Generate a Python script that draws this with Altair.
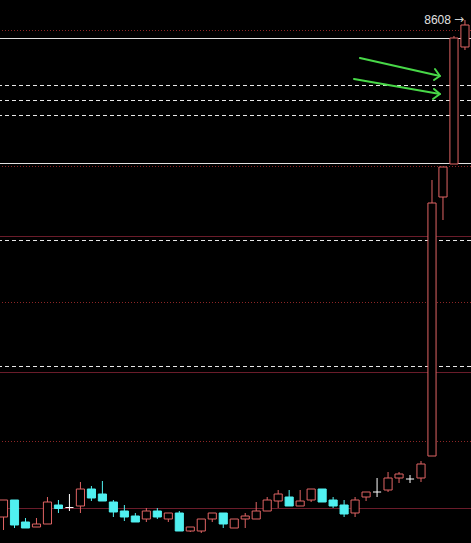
import altair as alt
import numpy as np
import pandas as pd

# Daily candles (oldest first)
opens = [3638, 3808, 3588, 3538, 3568, 3758, 3733, 3748, 3918, 3868, 3788,
         3698, 3648, 3618, 3698, 3618, 3678, 3498, 3498, 3618, 3678, 3528,
         3618, 3618, 3698, 3798, 3838, 3748, 3808, 3918, 3808, 3758, 3678,
         3838, 3888, 3908, 4028, 4018, 4028, 4248, 6838, 7168, 8338]
closes = [3808, 3558, 3528, 3568, 3788, 3723, 3733, 3918, 3828, 3798, 3688,
          3638, 3588, 3698, 3638, 3678, 3498, 3538, 3618, 3678, 3568, 3618,
          3648, 3698, 3808, 3868, 3748, 3798, 3918, 3788, 3748, 3668, 3808,
          3888, 3888, 4028, 4068, 4018, 4168, 6778, 7138, 8428, 8558]
highs = [3808, 3808, 3628, 3628, 3838, 3808, 3868, 3988, 3948, 3998, 3808,
         3758, 3678, 3728, 3728, 3678, 3698, 3538, 3618, 3678, 3678, 3618,
         3678, 3788, 3838, 3908, 3908, 3908, 3918, 3918, 3838, 3808, 3838,
         3888, 4028, 4088, 4088, 4058, 4198, 7008, 7138, 8448, 8608]
lows = [3508, 3528, 3528, 3538, 3568, 3678, 3698, 3678, 3798, 3798, 3638,
        3598, 3588, 3588, 3618, 3588, 3498, 3488, 3478, 3588, 3528, 3528,
        3528, 3618, 3698, 3728, 3748, 3748, 3788, 3788, 3728, 3638, 3638,
        3798, 3838, 3888, 3978, 3978, 3988, 4248, 6608, 7168, 8308]

# Horizontal reference levels
white_solid = [8423, 7173]
white_dashed = [7953, 7803, 7653, 6403, 5143]
red_dotted = [8503, 7143, 5783, 4393]
red_solid = [6443, 5083, 3723]

# Hand-drawn green arrows: shafts and heads as (bar index, price) points
arrow_id = ["a1", "a1", "h1", "h1", "h1", "a2", "a2", "h2", "h2", "h2"]
arrow_ord = [0, 1, 0, 1, 2, 0, 1, 0, 1, 2]
arrow_x = [32.44, 39.72, 39.27, 39.72, 39.18, 31.90, 39.72, 39.18, 39.72, 39.09]
arrow_y = [8228, 8048, 8118, 8048, 8008, 8018, 7868, 7918, 7868, 7818]

RED = "#e06464"
CYAN = "#50f0f0"
HALF = 0.37

df = pd.DataFrame({"i": range(len(opens)), "o": opens, "c": closes,
                   "h": highs, "l": lows})
df["kind"] = np.where(df.c > df.o, "up", np.where(df.c < df.o, "down", "doji"))
df["top"] = df[["o", "c"]].max(axis=1)
df["bot"] = df[["o", "c"]].min(axis=1)
df["left"] = df.i - HALF
df["right"] = df.i + HALF

xs = alt.Scale(domain=[-0.32, 42.55], nice=False, zero=False)
ys = alt.Scale(domain=[3378, 8808], nice=False, zero=False)
X = lambda f: alt.X(f, type="quantitative", scale=xs, axis=None)
Y = lambda f: alt.Y(f, type="quantitative", scale=ys, axis=None)


def hlines(values, color, dash=None, opacity=1.0):
    kw = dict(color=color, strokeWidth=1, opacity=opacity)
    if dash:
        kw["strokeDash"] = dash
    return alt.Chart(pd.DataFrame({"p": values})).mark_rule(**kw).encode(y=Y("p"))


lines = [
    hlines(red_solid, "#6a1c2a"),
    hlines(red_dotted, "#b03030", [1, 2], 0.8),
    hlines(white_dashed, "#e8e8e8", [4, 3]),
    hlines(white_solid, "#e0e0e0"),
]

base = alt.Chart(df)
wicks = base.mark_rule(strokeWidth=1).encode(
    x=X("i"), y=Y("l"), y2="h",
    color=alt.Color("kind:N", legend=None,
                    scale=alt.Scale(domain=["up", "down", "doji"],
                                    range=[RED, CYAN, "#ffffff"])),
)
up_bodies = base.transform_filter("datum.kind == 'up'").mark_rect(
    fill="black", stroke=RED, strokeWidth=1
).encode(x=X("left"), x2="right", y=Y("bot"), y2="top")
down_bodies = base.transform_filter("datum.kind == 'down'").mark_rect(
    fill=CYAN, stroke=CYAN, strokeWidth=1
).encode(x=X("left"), x2="right", y=Y("bot"), y2="top")
doji_bars = base.transform_filter("datum.kind == 'doji'").mark_rule(
    color="#ffffff", strokeWidth=1
).encode(x=X("left"), x2="right", y=Y("o"))

arrows = alt.Chart(pd.DataFrame({"g": arrow_id, "k": arrow_ord,
                                 "x": arrow_x, "y": arrow_y})).mark_line(
    color="#48d848", strokeWidth=2, strokeCap="round", strokeJoin="round"
).encode(x=X("x"), y=Y("y"), detail="g:N", order="k:Q")

last = df.iloc[[-1]]
peak_text = alt.Chart(last).mark_text(
    align="right", baseline="middle", dx=-14, fontSize=12,
    font="Liberation Sans", color="#e0e0e0"
).encode(x=X("i"), y=Y("h"), text=alt.Text("h:Q", format="d"))
peak_arrow = alt.Chart(last).mark_text(
    align="center", baseline="middle", dx=-6, dy=-1, fontSize=12,
    font="DejaVu Sans", color="#d0d0d0", text="\u2192"
).encode(x=X("i"), y=Y("h"))

chart = alt.layer(
    *lines, wicks, up_bodies, down_bodies, doji_bars, arrows, peak_text, peak_arrow
).properties(
    width=471, height=543, padding=0, background="black",
    autosize=alt.AutoSizeParams(type="none"),
).configure_view(strokeWidth=0)

chart.save("out.html", embed_options={"renderer": "svg", "actions": False})
